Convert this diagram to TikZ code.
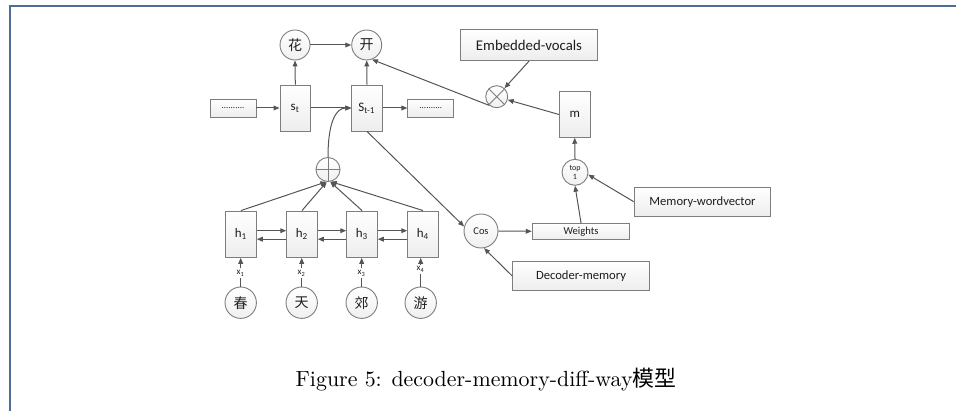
\documentclass[tikz,border=0pt]{standalone}
\usepackage{fontspec}
\newfontfamily\diafont{Carlito}
\newfontfamily\cjkfont{Noto Sans CJK SC}
\usetikzlibrary{arrows.meta,calc}
\definecolor{framec}{RGB}{79,110,150}
\definecolor{linec}{RGB}{85,85,85}
\definecolor{borderc}{RGB}{125,125,125}
\definecolor{textc}{RGB}{30,30,30}
\begin{document}
\begin{tikzpicture}[x=0.5pt,y=-0.5pt,
  box/.style={draw=borderc, line width=0.45pt, top color=white, bottom color=gray!14, inner sep=0pt, text=textc, font=\diafont},
  circ/.style={circle, draw=borderc, line width=0.45pt, top color=white, bottom color=gray!12, inner sep=0pt, text=textc},
  cjkc/.style={circ, font=\cjkfont\fontsize{7}{8}\selectfont},
  dotbox/.style={box, minimum width=23pt, minimum height=9pt, font=\diafont\fontsize{4.5}{5}\selectfont},
  statebox/.style={box, minimum width=15.3pt, minimum height=23pt, font=\diafont\fontsize{6.5}{7}\selectfont},
  labbox/.style={box, minimum width=68.3pt, font=\diafont\fontsize{6.3}{7}\selectfont},
  xlab/.style={inner sep=0.5pt, text=textc, font=\diafont\fontsize{4.5}{5}\selectfont},
  arr/.style={draw=linec, line width=0.5pt, -{Triangle[length=3pt,width=2.4pt]}},
  ln/.style={draw=linec, line width=0.5pt},
  inl/.style={draw=borderc, line width=0.45pt},
]
\useasboundingbox (0,0) rectangle (956,411);
\draw[framec, line width=1pt] (10,411) -- (10,6) -- (956,6);

% top row
\node[cjkc, minimum size=15pt] (hua) at (295,45) {花};
\node[cjkc, minimum size=15pt] (kai) at (366.7,45) {开};
\node[dotbox] (dl) at (233,108) {..........};
\node[statebox] (st) at (295.3,108) {s\textsubscript{t}};
\node[statebox] (st1) at (367,108) {S\textsubscript{t-1}};
\node[dotbox] (dr) at (430.8,108) {..........};

% plus
\node[circ, minimum size=12pt] (plus) at (328,169.5) {};
\draw[inl] (plus.north) -- (plus.south) (plus.west) -- (plus.east);

% encoder
\foreach \i/\hx/\cx/\ly/\c in {1/241/240.7/273/春, 2/302/301.7/273/天, 3/362/361.7/273/郊, 4/423/420.7/269/游} {
  \node[statebox, minimum height=23.2pt] (h\i) at (\hx,234.2) {h\textsubscript{\i}};
  \node[cjkc, minimum size=15.7pt] (c\i) at (\cx,302.7) {\c};
  \node[xlab] (x\i) at (\cx,\ly) {x\textsubscript{\i}};
  \draw[ln] (c\i) -- (x\i);
  \draw[arr] (x\i.north) -- (x\i.north |- h\i.south);
}
\foreach \a/\b in {h1/h2,h2/h3,h3/h4} {
  \draw[arr] ($(\a.east)+(0,-3.5)$) -- ($(\b.west)+(0,-3.5)$);
  \draw[arr] ($(\b.west)+(0,5)$) -- ($(\a.east)+(0,5)$);
}
\draw[arr] (h1.north) -- (plus.262);
\draw[arr] (h2.north) -- (plus.264);
\draw[arr] (h3.north) -- (plus.280);
\draw[arr] (h4.north) -- (plus.283);

% memory side
\node[box, minimum width=68.3pt, minimum height=15.7pt, font=\diafont\fontsize{7.4}{8}\selectfont] (ev) at (529,45) {Embedded-vocals};
\node[circ, minimum size=11pt] (ox) at (496.7,96.7) {};
\draw[inl] (ox.45) -- (ox.225) (ox.135) -- (ox.315);
\node[box, minimum width=15.3pt, minimum height=22.8pt, font=\diafont\fontsize{6.5}{7}\selectfont] (m) at (574.7,114.5) {m};
\node[circ, minimum size=13pt, align=center, font=\diafont\fontsize{4}{4.3}\selectfont] (top) at (575,172.3) {top\\1};
\node[labbox, minimum height=14.3pt] (mw) at (702.5,201.7) {Memory-wordvector};
\node[circ, minimum size=17pt, font=\diafont\fontsize{5.2}{6}\selectfont] (cos) at (481,231) {Cos};
\node[box, minimum width=48.8pt, minimum height=8pt, font=\diafont\fontsize{5.3}{6}\selectfont] (w) at (581,231.3) {Weights};
\node[labbox, minimum height=14.2pt] (dm) at (581,276) {Decoder-memory};

% connectors
\draw[arr] (dl.east) -- (st.west);
\draw[arr] (st.east) -- (st1.west);
\draw[arr] (st1.east) -- (dr.west);
\draw[arr] (st.north) -- (hua.south);
\draw[arr] (st1.north) -- (kai.south);
\draw[arr] (hua.east) -- (kai.west);
\draw[arr] (plus.north) .. controls (328,122) and (336,108) .. (st1.west);
\draw[arr] (st1.south) -- (cos.165);
\draw[arr] (cos.east) -- (w.west);
\draw[arr] (dm.west) -- (cos.280);
\draw[arr] (w.north) -- (top.south);
\draw[arr] (mw.west) -- (top.-10);
\draw[arr] (top.north) -- (m.south);
\draw[arr] (m.west) -- (ox);
\draw[arr] (ev.south) -- (ox);
\draw[arr] (ox.230) -- (kai.290);

% caption
\node[font=\fontsize{10.95}{13}\selectfont, inner sep=0pt] (cap) at (486,380) {Figure 5: decoder-memory-diff-way{\cjkfont 模型}};
\end{tikzpicture}
\end{document}
